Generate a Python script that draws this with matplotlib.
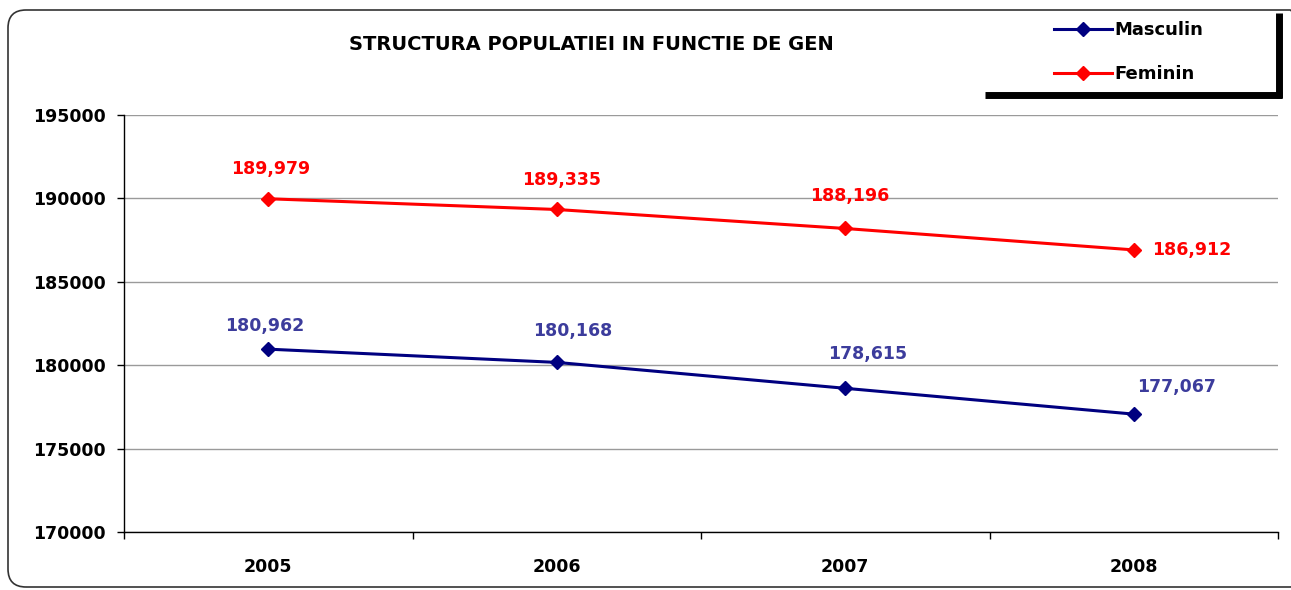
import matplotlib
matplotlib.use("Agg")
import matplotlib.pyplot as plt
from matplotlib.patches import FancyBboxPatch
from matplotlib.lines import Line2D
from matplotlib.transforms import IdentityTransform

plt.rcParams['font.family'] = ['DejaVu Sans']

years = ['2005', '2006', '2007', '2008']
masculin = [180962, 180168, 178615, 177067]
feminin = [189979, 189335, 188196, 186912]
yticks = [170000, 175000, 180000, 185000, 190000, 195000]
title = 'STRUCTURA POPULATIEI IN FUNCTIE DE GEN'

# label offsets (pixels)
fem_off = [(2, 30, 'center'), (5, 29, 'center'), (4, 32, 'center'), (18, 0, 'left')]
mas_off = [(-4, 23, 'center'), (16, 31, 'center'), (22, 34, 'center'), (43, 27, 'center')]

W, H = 1291, 590
fig = plt.figure(figsize=(W / 100, H / 100), dpi=100)
ax = fig.add_axes([124 / W, 1 - 532 / H, (1278 - 124) / W, (532 - 115) / H])

x = list(range(len(years)))
navy = '#000080'
red = '#ff0000'
lm, = ax.plot(x, masculin, color=navy, lw=2.2, marker='D', ms=7.5, label='Masculin', zorder=3)
lf, = ax.plot(x, feminin, color=red, lw=2.2, marker='D', ms=7.5, label='Feminin', zorder=3)

for i, v in enumerate(feminin):
    dx, dy, ha = fem_off[i]
    ax.annotate(f'{v:,}', (x[i], v), xytext=(dx, dy), textcoords='offset pixels',
                ha=ha, va='center', color=red, fontsize=12.5, fontweight='bold')
for i, v in enumerate(masculin):
    dx, dy, ha = mas_off[i]
    ax.annotate(f'{v:,}', (x[i], v), xytext=(dx, dy), textcoords='offset pixels',
                ha=ha, va='center', color='#3c3c9c', fontsize=12.5, fontweight='bold')

ax.set_xlim(-0.5, len(years) - 0.5)
ax.set_ylim(170000, 195000)
ax.set_yticks(yticks)
ax.set_yticklabels([str(t) for t in yticks], fontsize=12.5, fontweight='bold')
ax.set_xticks(x)
ax.set_xticklabels(years, fontsize=12.5, fontweight='bold')
ax.set_xticks([i - 0.5 for i in range(len(years) + 1)], minor=True)
ax.tick_params(axis='x', which='major', length=0, pad=19)
ax.tick_params(axis='x', which='minor', length=5, width=1, direction='out')
ax.tick_params(axis='y', length=5, width=1, direction='out', pad=8)
ax.grid(axis='y', color='#9a9a9a', lw=1)
ax.set_axisbelow(True)
for s in ['top', 'right']:
    ax.spines[s].set_visible(False)
for s in ['left', 'bottom']:
    ax.spines[s].set_linewidth(1)
    ax.spines[s].set_color('black')

fig.text(591 / W, 1 - 45 / H, title, ha='center', va='center', fontsize=14, fontweight='bold')

# outer rounded border
border = FancyBboxPatch((8, 3), 1300, 577, boxstyle='round,pad=0,rounding_size=18',
                        transform=IdentityTransform(), fill=False, ec='#333333', lw=1.2)
fig.add_artist(border)

# legend box shadow lines
fig.add_artist(Line2D([985, 1282], [H - 95, H - 95], transform=IdentityTransform(), color='black', lw=5, solid_capstyle='butt'))
fig.add_artist(Line2D([1279, 1279], [H - 13, H - 98], transform=IdentityTransform(), color='black', lw=5, solid_capstyle='butt'))

leg = fig.legend(handles=[lm, lf], loc='upper left', bbox_to_anchor=(1054 / W, 1 - 21 / H),
                 frameon=False, prop={'weight': 'bold', 'size': 13}, handlelength=3.2,
                 handletextpad=0.15, labelspacing=1.45, borderpad=0, borderaxespad=0, markerscale=0.9)

fig.savefig('out.png', dpi=100)
